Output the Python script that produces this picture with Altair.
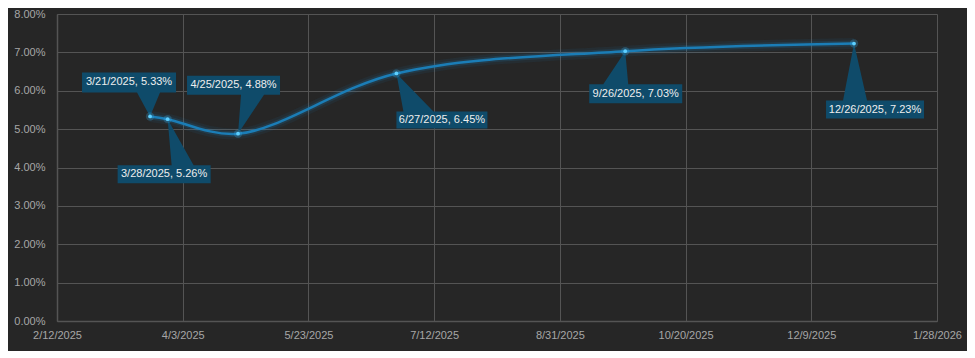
import altair as alt
import pandas as pd

# ---- data ----
dates = ["2025-03-21", "2025-03-28", "2025-04-25", "2025-06-27", "2025-09-26", "2025-12-26"]
date_labels = ["3/21/2025", "3/28/2025", "4/25/2025", "6/27/2025", "9/26/2025", "12/26/2025"]
rates_pct = [5.33, 5.26, 4.88, 6.45, 7.03, 7.23]

x_tick_dates = ["2025-02-12", "2025-04-03", "2025-05-23", "2025-07-12",
                "2025-08-31", "2025-10-20", "2025-12-09", "2026-01-28"]
y_tick_pct = [0, 1, 2, 3, 4, 5, 6, 7, 8]

# ---- callout layout (pixel offsets relative to each point; styling only) ----
# box left, right, top, bottom, pointer base x0, x1
callout_layout = [
    (-68, 26, -44, -24, -13, 10),
    (-50, 43, 46, 64, 4, 26),
    (-51, 42, -58, -39, 3, 26),
    (0, 91, 38, 55, 7, 37),
    (-36, 57, 33, 52, -22, 3),
    (-28, 70, 57, 75, -11, 13),
]

BG = "#262626"
GRID = "#545454"
LABEL = "#a6a6a6"
BOX = "#0f4b6a"
LINE = "#1b7db6"
POINT = "#5fd0ff"
FONT = "Liberation Sans"
CURVE = "catmull-rom"


def to_ms(d):
    return int(pd.Timestamp(d, tz="UTC").value // 10**6)


df = pd.DataFrame({
    "idx": list(range(len(dates))),
    "date": dates,
    "rate": [v / 100 for v in rates_pct],
    "label": [f"{d}, {v:.2f}%" for d, v in zip(date_labels, rates_pct)],
})

x_enc = alt.X(
    "date:T",
    scale=alt.Scale(type="utc", domain=[to_ms(x_tick_dates[0]), to_ms(x_tick_dates[-1])]),
    axis=alt.Axis(
        values=[to_ms(d) for d in x_tick_dates],
        labelExpr="utcFormat(datum.value, '%-m/%-d/%Y')",
        title=None, ticks=False, tickSize=0, labelPadding=8,
        labelAngle=0, labelOverlap=False, labelFlush=False, labelBound=False,
    ),
)
y_enc = alt.Y(
    "rate:Q",
    scale=alt.Scale(domain=[0, 0.08], nice=False, zero=True),
    axis=alt.Axis(
        values=[v / 100 for v in y_tick_pct], format=".2%",
        title=None, ticks=False, tickSize=0, labelPadding=12,
        labelFlush=False,
    ),
)

base = alt.Chart(df).encode(x=x_enc, y=y_enc)

glow1 = base.mark_line(interpolate=CURVE, color="#1e90d0", strokeWidth=11, opacity=0.07)
glow2 = base.mark_line(interpolate=CURVE, color="#1e90d0", strokeWidth=6, opacity=0.15)
line = base.mark_line(interpolate=CURVE, color=LINE, strokeWidth=2.5)

layers = [glow1, glow2, line]

for i, (l, r, t, b, b0, b1) in enumerate(callout_layout):
    edge = b if b < 0 else t
    path = (f"M0,0L{b0},{edge}L{b1},{edge}Z "
            f"M{l},{t}L{r},{t}L{r},{b}L{l},{b}Z")
    sub = base.transform_filter(alt.datum.idx == i)
    layers.append(sub.mark_point(shape=path, size=4, filled=True, fill=BOX,
                                 strokeWidth=0, opacity=1))
    layers.append(sub.mark_text(dx=(l + r) / 2, dy=(t + b) / 2, align="center",
                                baseline="middle", font=FONT, fontSize=11,
                                color="#eeeeee").encode(text="label:N"))

pt_glow = base.mark_circle(size=70, color="#3ab4ee", opacity=0.25)
pt = base.mark_circle(size=14, color=POINT, opacity=1)
layers += [pt_glow, pt]

chart = alt.layer(*layers).properties(
    width=880, height=307,
    background=BG,
    autosize=alt.AutoSizeParams(type="none"),
    padding={"left": 49, "top": 6, "right": 30, "bottom": 30},
).configure_view(stroke=None).configure_axis(
    gridColor=GRID, gridWidth=1, domainColor=GRID, domainWidth=1.5,
    labelColor=LABEL, labelFont=FONT, labelFontSize=11,
)

chart.save("out.html", embed_options={"renderer": "svg", "actions": False})
